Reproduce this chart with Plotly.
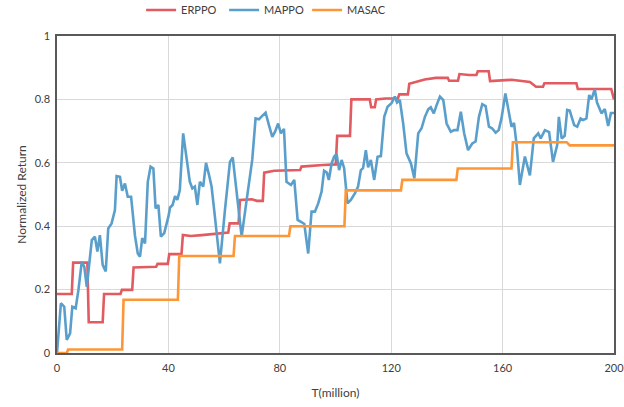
import plotly.graph_objects as go

# ---- data ----
erppo_x = [0, 5.3, 5.8, 10.9, 11.4, 16.4, 16.9, 22.8, 23.3, 27.0, 27.5, 35.6, 36.1, 39.8, 40.3,
           44.7, 45.2, 48.0, 52.0, 56.7, 59.7, 61.5, 62.0, 62.7, 65.2, 65.7, 70.0, 71.7, 72.9,
           73.9, 74.4, 78.0, 87.3, 87.8, 95.5, 100.1, 100.6, 105.2, 105.7, 112.3, 112.8, 114.1,
           114.6, 118.0, 122.4, 122.9, 126.0, 126.5, 132.0, 136.0, 140.3, 140.8, 144.0, 144.5,
           148.0, 150.6, 151.1, 155.0, 155.5, 163.2, 169.8, 172.0, 174.5, 175.0, 186.5, 187.0,
           199.0, 200.0]
erppo_y = [0.186, 0.186, 0.285, 0.285, 0.097, 0.097, 0.186, 0.186, 0.199, 0.199, 0.270, 0.272,
           0.281, 0.281, 0.312, 0.312, 0.372, 0.369, 0.372, 0.376, 0.378, 0.380, 0.409, 0.409,
           0.409, 0.483, 0.485, 0.480, 0.480, 0.480, 0.569, 0.575, 0.577, 0.588, 0.593, 0.595,
           0.685, 0.685, 0.800, 0.800, 0.775, 0.775, 0.800, 0.803, 0.803, 0.816, 0.816, 0.849,
           0.863, 0.868, 0.868, 0.859, 0.859, 0.880, 0.877, 0.877, 0.889, 0.889, 0.858, 0.862,
           0.855, 0.840, 0.840, 0.851, 0.851, 0.833, 0.833, 0.800]

mappo_x = [0, 1.4, 2.6, 3.5, 4.7, 5.5, 6.7, 7.7, 8.9, 9.8, 10.7, 11.6, 12.5, 13.6, 14.5, 15.4,
           16.4, 17.5, 18.4, 19.6, 20.8, 21.4, 22.6, 23.4, 24.4, 25.4, 26.6, 28.0, 29.0, 29.8,
           30.6, 31.6, 32.6, 33.6, 34.6, 35.4, 36.4, 37.3, 38.5, 40.0, 40.6, 41.5, 42.4, 43.2,
           44.1, 45.3, 45.9, 46.9, 47.7, 48.6, 49.5, 50.4, 51.3, 52.5, 53.5, 54.6, 55.5, 56.7,
           58.5, 60.3, 62.1, 63.1, 64.1, 65.3, 66.3, 68.1, 70.1, 71.3, 72.5, 73.7, 74.9, 76.1,
           77.3, 78.3, 79.4, 80.4, 81.5, 82.4, 84.0, 85.2, 86.4, 87.6, 88.8, 90.2, 91.4, 92.6,
           93.8, 95.0, 95.9, 96.9, 97.6, 98.6, 99.5, 100.4, 101.3, 102.2, 103.1, 104.3, 105.5,
           107.0, 108.1, 109.1, 109.9, 110.9, 111.7, 112.7, 113.9, 115.1, 116.3, 117.5, 118.7,
           120.1, 121.3, 122.1, 123.1, 124.3, 125.5, 127.1, 128.3, 129.7, 130.9, 132.1, 133.3,
           134.2, 135.3, 136.3, 137.5, 138.7, 139.9, 141.4, 142.6, 143.8, 145.0, 146.2, 147.6,
           149.1, 150.3, 151.5, 152.7, 153.9, 155.1, 156.2, 157.5, 158.6, 159.6, 161.0, 162.2,
           163.2, 164.1, 165.1, 166.2, 168.0, 169.8, 171.2, 172.8, 173.7, 175.2, 176.7, 178.1,
           179.6, 180.2, 181.2, 182.3, 183.2, 184.1, 185.7, 186.8, 188.0, 188.9, 190.1, 191.1,
           191.9, 193.1, 193.9, 195.5, 196.7, 197.9, 198.9, 200.0]
mappo_y = [0.0, 0.157, 0.146, 0.041, 0.062, 0.146, 0.141, 0.199, 0.288, 0.272, 0.209, 0.293,
           0.356, 0.367, 0.320, 0.372, 0.278, 0.257, 0.393, 0.409, 0.451, 0.558, 0.556, 0.512,
           0.535, 0.493, 0.493, 0.370, 0.314, 0.304, 0.362, 0.346, 0.540, 0.588, 0.582, 0.456,
           0.467, 0.367, 0.378, 0.430, 0.459, 0.467, 0.495, 0.483, 0.514, 0.693, 0.656, 0.588,
           0.540, 0.519, 0.525, 0.467, 0.540, 0.525, 0.600, 0.561, 0.525, 0.430, 0.283, 0.451,
           0.603, 0.617, 0.535, 0.451, 0.367, 0.483, 0.609, 0.740, 0.737, 0.748, 0.758, 0.719,
           0.682, 0.698, 0.724, 0.693, 0.707, 0.540, 0.530, 0.546, 0.420, 0.414, 0.407, 0.314,
           0.446, 0.446, 0.472, 0.509, 0.575, 0.569, 0.546, 0.598, 0.619, 0.628, 0.577, 0.609,
           0.583, 0.472, 0.483, 0.504, 0.525, 0.577, 0.583, 0.640, 0.586, 0.609, 0.546, 0.619,
           0.621, 0.745, 0.777, 0.788, 0.809, 0.790, 0.798, 0.724, 0.630, 0.598, 0.551, 0.693,
           0.709, 0.745, 0.769, 0.775, 0.756, 0.782, 0.809, 0.798, 0.724, 0.698, 0.703, 0.703,
           0.761, 0.693, 0.640, 0.661, 0.667, 0.745, 0.785, 0.779, 0.714, 0.709, 0.695, 0.703,
           0.740, 0.819, 0.756, 0.714, 0.726, 0.651, 0.530, 0.620, 0.560, 0.677, 0.693, 0.677,
           0.703, 0.697, 0.603, 0.656, 0.745, 0.677, 0.685, 0.767, 0.765, 0.719, 0.714, 0.740,
           0.735, 0.740, 0.814, 0.800, 0.832, 0.790, 0.756, 0.770, 0.716, 0.757, 0.757]

masac_x = [0, 3.5, 4.0, 23.4, 23.9, 43.4, 43.9, 63.4, 63.9, 83.3, 83.8, 103.2, 103.7, 123.5,
           124.0, 143.4, 143.9, 163.2, 163.7, 183.0, 184.1, 200]
masac_y = [0, 0, 0.011, 0.011, 0.168, 0.168, 0.306, 0.306, 0.369, 0.369, 0.400, 0.400, 0.513,
           0.513, 0.546, 0.546, 0.582, 0.582, 0.665, 0.665, 0.655, 0.655]

x_ticks = [0, 40, 80, 120, 160, 200]
y_ticks = [0, 0.2, 0.4, 0.6, 0.8, 1]
y_tick_labels = ["0", "0.2", "0.4", "0.6", "0.8", "1"]

FONT = "Lato, Liberation Sans, sans-serif"

fig = go.Figure()
fig.add_trace(go.Scatter(x=erppo_x, y=erppo_y, mode="lines", name="ERPPO",
                         line=dict(color="#e25b60", width=2.6)))
fig.add_trace(go.Scatter(x=mappo_x, y=mappo_y, mode="lines", name="MAPPO",
                         line=dict(color="#5a9fcb", width=2.6)))
fig.add_trace(go.Scatter(x=masac_x, y=masac_y, mode="lines", name="MASAC",
                         line=dict(color="#fd9636", width=2.6)))

fig.update_layout(
    width=624, height=407,
    margin=dict(l=57, r=10, t=36, b=54, autoexpand=False),
    paper_bgcolor="white", plot_bgcolor="white",
    font=dict(family=FONT, size=11, color="#404040"),
    legend=dict(orientation="h", x=0.151, xanchor="left", y=1.082, yanchor="middle",
                font=dict(size=11, color="#404040"), itemwidth=30, entrywidth=38,
                bgcolor="rgba(0,0,0,0)", tracegroupgap=0),
    showlegend=True,
)
fig.update_xaxes(range=[0, 200], tickvals=x_ticks, showgrid=True, gridcolor="#d9d9d9",
                 gridwidth=1, showline=True, linecolor="#595959", linewidth=1.5, mirror=True,
                 ticks="", zeroline=False, automargin=False, ticklabelstandoff=4,
                 ticklabeloverflow="allow",
                 title=dict(text="T(million)", font=dict(size=12, color="#404040"), standoff=16),
                 tickfont=dict(size=11, color="#404040"))
fig.update_yaxes(range=[0, 1], tickvals=y_ticks, ticktext=y_tick_labels, showgrid=True,
                 gridcolor="#d9d9d9", gridwidth=1, showline=True, linecolor="#595959",
                 linewidth=1.5, mirror=True, ticks="", zeroline=False, automargin=False,
                 ticklabelstandoff=3, ticklabeloverflow="allow",
                 title=dict(text="Normalized Return", font=dict(size=12, color="#404040"),
                            standoff=5),
                 tickfont=dict(size=11, color="#404040"))

fig.write_html("out.html", config={"displayModeBar": False},
               post_script="document.body.style.margin='0';document.body.style.padding='0';")
